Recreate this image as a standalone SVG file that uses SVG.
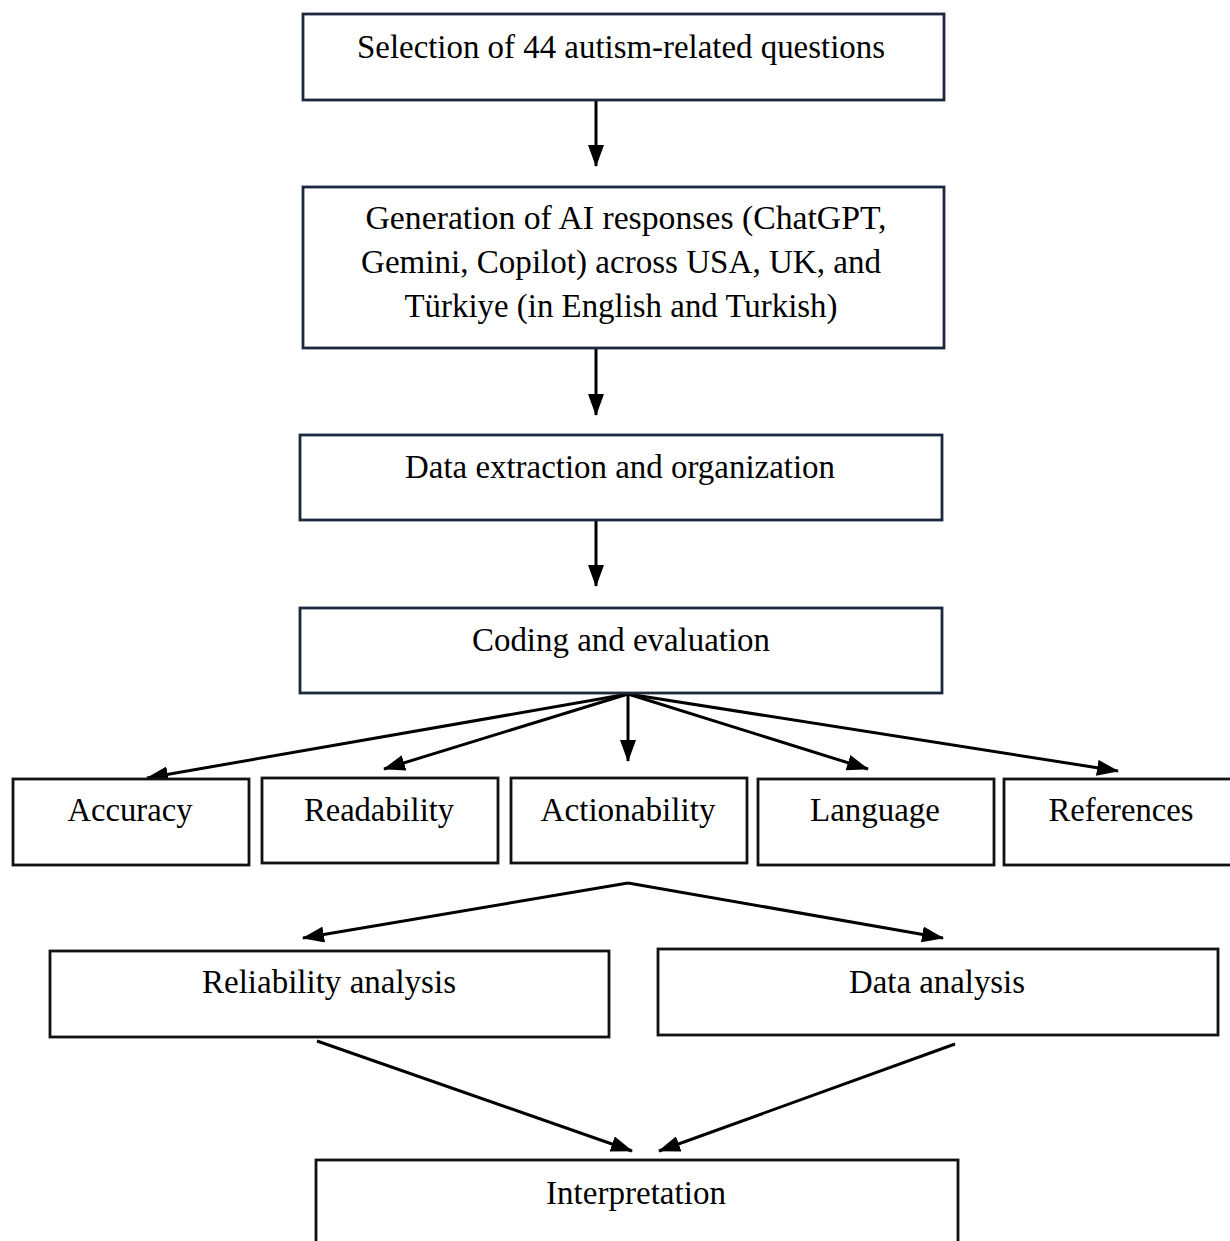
<svg xmlns="http://www.w3.org/2000/svg" width="1230" height="1241" viewBox="0 0 1230 1241">
<style>
.box{fill:#fff;stroke-width:2.8}
.nv{stroke:#1c2840}
.bk{stroke:#111}
text{font-family:"Liberation Serif","Times New Roman",serif;font-size:33px;fill:#000;text-anchor:middle}
.c line{stroke:#000;stroke-width:3;fill:none}
</style>
<defs>
<marker id="a" viewBox="0 0 22 16" refX="21" refY="8" markerWidth="22" markerHeight="16" markerUnits="userSpaceOnUse" orient="auto">
<path d="M0,0 L22,8 L0,16 z" fill="#000"/>
</marker>
</defs>
<rect width="1230" height="1241" fill="#fff"/>
<g class="c" id="connectors">
<line x1="596" y1="100" x2="596" y2="166" marker-end="url(#a)"/>
<line x1="596" y1="349" x2="596" y2="415" marker-end="url(#a)"/>
<line x1="596" y1="521" x2="596" y2="586" marker-end="url(#a)"/>
<line x1="628" y1="694" x2="147" y2="778" marker-end="url(#a)"/>
<line x1="628" y1="694" x2="384" y2="769" marker-end="url(#a)"/>
<line x1="628" y1="694" x2="628" y2="761" marker-end="url(#a)"/>
<line x1="628" y1="694" x2="868" y2="769" marker-end="url(#a)"/>
<line x1="628" y1="694" x2="1118" y2="771" marker-end="url(#a)"/>
<line x1="628" y1="883" x2="303" y2="938" marker-end="url(#a)"/>
<line x1="628" y1="883" x2="943" y2="938" marker-end="url(#a)"/>
<line x1="317" y1="1041" x2="632" y2="1151" marker-end="url(#a)"/>
<line x1="955" y1="1044" x2="659" y2="1151" marker-end="url(#a)"/>
</g>
<g id="n1"><rect class="box nv" x="303" y="14" width="641" height="86"/><text x="621" y="58" textLength="528" lengthAdjust="spacingAndGlyphs">Selection of 44 autism-related questions</text></g>
<g id="n2"><rect class="box nv" x="303" y="187" width="641" height="161"/>
<text x="626" y="229" textLength="521" lengthAdjust="spacingAndGlyphs">Generation of AI responses (ChatGPT,</text>
<text x="621" y="273" textLength="520" lengthAdjust="spacingAndGlyphs">Gemini, Copilot) across USA, UK, and</text>
<text x="621" y="317" textLength="433" lengthAdjust="spacingAndGlyphs">Türkiye (in English and Turkish)</text></g>
<g id="n3"><rect class="box nv" x="300" y="435" width="642" height="85"/><text x="620" y="478" textLength="430" lengthAdjust="spacingAndGlyphs">Data extraction and organization</text></g>
<g id="n4"><rect class="box nv" x="300" y="608" width="642" height="85"/><text x="621" y="651" textLength="298" lengthAdjust="spacingAndGlyphs">Coding and evaluation</text></g>
<g id="n5"><rect class="box bk" x="13" y="779" width="236" height="86"/><text x="130" y="821" textLength="125" lengthAdjust="spacingAndGlyphs">Accuracy</text></g>
<g id="n6"><rect class="box bk" x="262" y="778" width="236" height="85"/><text x="379" y="821" textLength="150" lengthAdjust="spacingAndGlyphs">Readability</text></g>
<g id="n7"><rect class="box bk" x="511" y="778" width="236" height="85"/><text x="628" y="821" textLength="175" lengthAdjust="spacingAndGlyphs">Actionability</text></g>
<g id="n8"><rect class="box bk" x="758" y="779" width="236" height="86"/><text x="875" y="821" textLength="130" lengthAdjust="spacingAndGlyphs">Language</text></g>
<g id="n9"><rect class="box bk" x="1004" y="779" width="236" height="86"/><text x="1121" y="821" textLength="145" lengthAdjust="spacingAndGlyphs">References</text></g>
<g id="n10"><rect class="box bk" x="50" y="951" width="559" height="86"/><text x="329" y="993" textLength="254" lengthAdjust="spacingAndGlyphs">Reliability analysis</text></g>
<g id="n11"><rect class="box bk" x="658" y="949" width="560" height="86"/><text x="937" y="993" textLength="176" lengthAdjust="spacingAndGlyphs">Data analysis</text></g>
<g id="n12"><rect class="box bk" x="316" y="1160" width="642" height="90"/><text x="636" y="1204" textLength="180" lengthAdjust="spacingAndGlyphs">Interpretation</text></g>
</svg>
